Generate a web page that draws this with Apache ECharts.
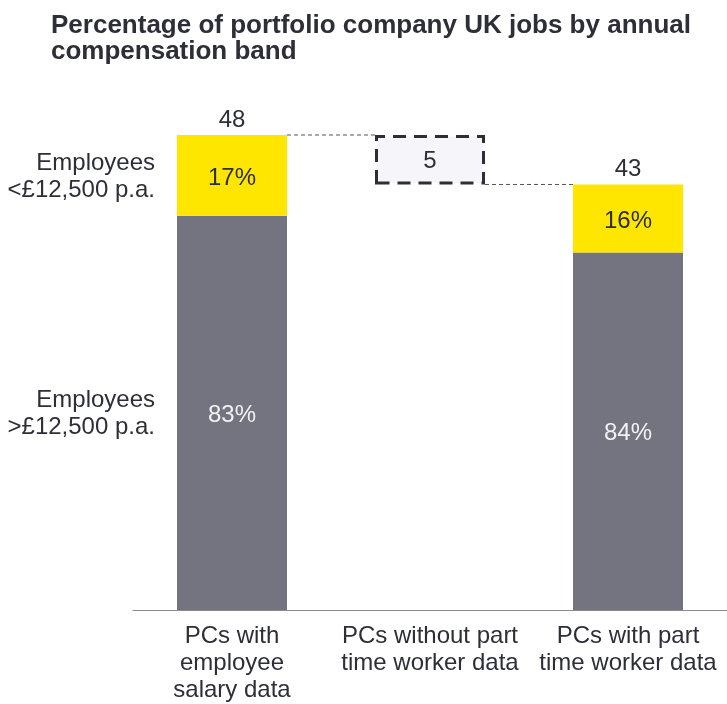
<!DOCTYPE html>
<html>
<head>
<meta charset="utf-8">
<script src="https://cdn.jsdelivr.net/npm/echarts@6/dist/echarts.min.js"></script>
<style>
  html, body { margin: 0; padding: 0; background: #fff; }
  #chart { width: 727px; height: 704px; }
</style>
</head>
<body>
<div id="chart"></div>
<script>
// Categories along the bottom axis
const categories = ['PCs with\nemployee\nsalary data', 'PCs without part\ntime worker data', 'PCs with part\ntime worker data'];
// Totals (number of jobs, thousands) for the two full bars
const totals = [48, null, 43];
// Share of each total in the two compensation bands (%)
const shareLow = [17, null, 16];
const shareHigh = [83, null, 84];
// Difference bridging the two totals
const bridgeBase = [null, 43, null];
const bridgeGap = [null, 5, null];
// Band names shown beside the first bar
const bandNames = ['Employees\n<£12,500 p.a.', 'Employees\n>£12,500 p.a.'];

const INK = '#2e2e38';
const YELLOW = '#ffe600';
const GREY = '#747480';
const BAR_W = 110;
const FONT = '"Liberation Sans", Arial, sans-serif';
const FS = 24;

const highVals = totals.map((t, i) => t == null ? '-' : t * shareHigh[i] / 100);
const lowVals = totals.map((t, i) => t == null ? '-' : t * shareLow[i] / 100);

const chart = echarts.init(document.getElementById('chart'));

function annotations(params, api) {
  const children = [];
  const halfW = BAR_W / 2;
  // totals above the full bars
  totals.forEach((t, i) => {
    if (t == null) return;
    const p = api.coord([i, t]);
    children.push({
      type: 'text',
      style: { text: String(t), x: p[0], y: p[1] - 3, align: 'center', verticalAlign: 'bottom',
               font: FS + 'px ' + FONT, fill: INK }
    });
  });
  // dashed connectors between bar tops and the bridge box
  const a = api.coord([0, totals[0]]);
  const b = api.coord([1, totals[0]]);
  children.push({
    type: 'line',
    shape: { x1: a[0] + halfW, y1: a[1], x2: b[0] - halfW, y2: b[1] },
    style: { stroke: '#555', lineWidth: 1, lineDash: [4, 3] }
  });
  const c = api.coord([1, totals[2]]);
  const d = api.coord([2, totals[2]]);
  children.push({
    type: 'line',
    shape: { x1: c[0] + halfW, y1: c[1], x2: d[0] - halfW, y2: d[1] },
    style: { stroke: '#555', lineWidth: 1, lineDash: [4, 3] }
  });
  // band names to the left of the first bar
  const lowMid = api.coord([0, highVals[0] + lowVals[0] / 2]);
  const highMid = api.coord([0, highVals[0] / 2]);
  [[bandNames[0], lowMid], [bandNames[1], highMid]].forEach(([txt, p]) => {
    children.push({
      type: 'text',
      style: { text: txt, x: p[0] - halfW - 22, y: p[1] + 1, align: 'right', verticalAlign: 'middle',
               font: FS + 'px ' + FONT, fill: INK, lineHeight: 27 }
    });
  });
  return { type: 'group', children };
}

chart.setOption({
  animation: false,
  title: {
    text: 'Percentage of portfolio company UK jobs by annual\ncompensation band',
    left: 46, top: 8,
    textStyle: { fontFamily: FONT, fontSize: 26, fontWeight: 'bold', color: INK, lineHeight: 26 }
  },
  grid: { left: 133, right: 0, top: 16.25, bottom: 94, containLabel: false },
  xAxis: {
    type: 'category',
    data: categories,
    axisLine: { lineStyle: { color: '#8a8a8a', width: 1 } },
    axisTick: { show: false },
    axisLabel: { color: INK, fontSize: FS, lineHeight: 27, margin: 13, fontFamily: FONT, interval: 0 }
  },
  yAxis: {
    type: 'value', min: 0, max: 60,
    show: false, splitLine: { show: false }
  },
  series: [
    {
      name: 'high', type: 'bar', stack: 'a', barWidth: BAR_W, barGap: '-100%',
      data: highVals,
      itemStyle: { color: GREY },
      label: { show: true, position: 'inside', offset: [0, 2], color: '#f2f2f2', fontSize: FS, fontFamily: FONT,
               formatter: p => shareHigh[p.dataIndex] + '%' }
    },
    {
      name: 'low', type: 'bar', stack: 'a', barWidth: BAR_W, barGap: '-100%',
      data: lowVals,
      itemStyle: { color: YELLOW },
      label: { show: true, position: 'inside', offset: [0, 3], color: INK, fontSize: FS, fontFamily: FONT,
               formatter: p => shareLow[p.dataIndex] + '%' }
    },
    {
      name: 'base', type: 'bar', stack: 'b', barWidth: BAR_W, barGap: '-100%',
      data: bridgeBase.map(v => v == null ? '-' : v),
      itemStyle: { color: 'transparent' },
      silent: true
    },
    {
      name: 'gap', type: 'bar', stack: 'b', barWidth: BAR_W, barGap: '-100%',
      data: bridgeGap.map(v => v == null ? '-' : v),
      itemStyle: { color: '#f6f6fa', borderColor: INK, borderWidth: 3, borderType: [13, 8] },
      label: { show: true, position: 'inside', offset: [0, 2], color: INK, fontSize: FS, fontFamily: FONT }
    },
    {
      name: 'notes', type: 'custom', coordinateSystem: 'cartesian2d',
      data: [[0, 0]], renderItem: annotations, silent: true, z: 5
    }
  ]
});
</script>
</body>
</html>
